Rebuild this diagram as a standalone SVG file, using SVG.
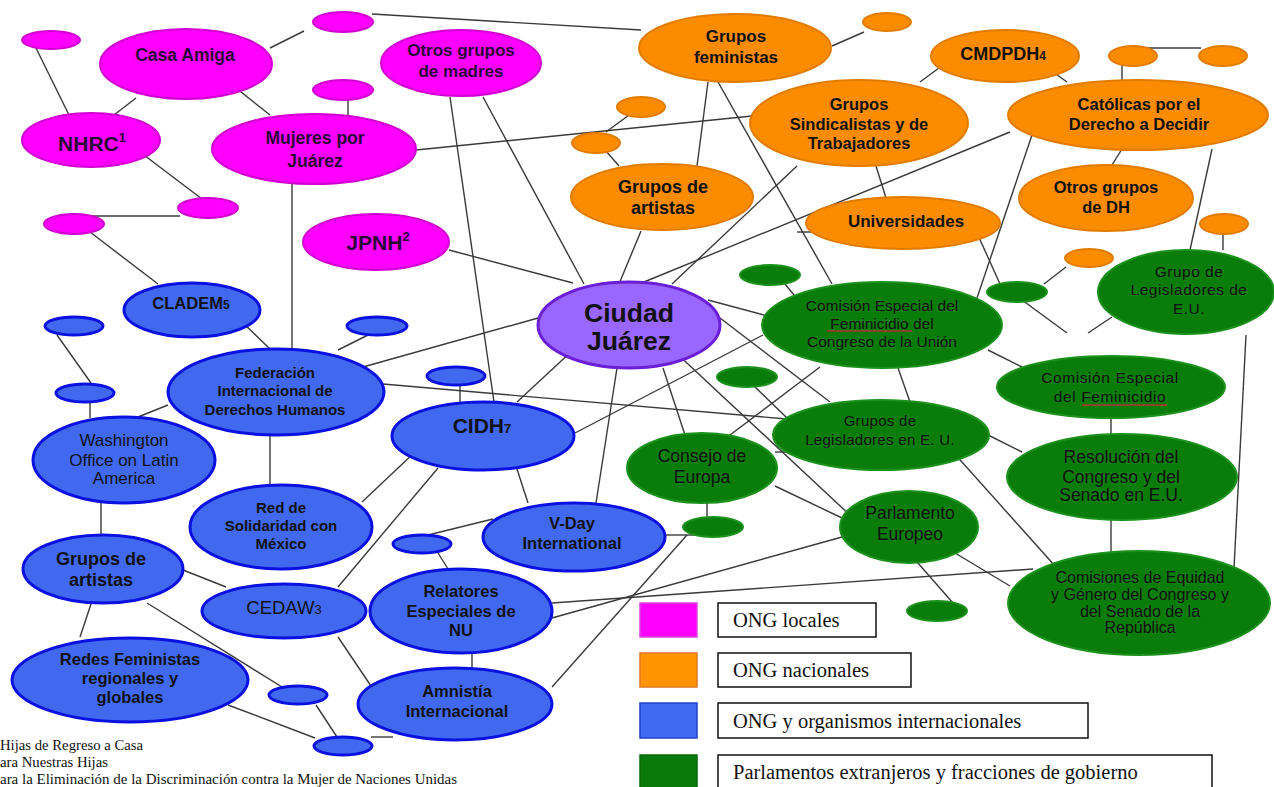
<svg xmlns="http://www.w3.org/2000/svg" width="1274" height="787" viewBox="0 0 1274 787">
<style>
.c line{stroke:#3a3a3a;stroke-width:1.4}
.pk{fill:#FF00FF;stroke:#D000D0;stroke-width:2}
.or{fill:#FB8C00;stroke:#E27C00;stroke-width:2}
.bl{fill:#4169F0;stroke:#0A10E0;stroke-width:3}
.gr{fill:#0A7C0A;stroke:#1C921C;stroke-width:2}
.cj{fill:#9966FF;stroke:#6A1FD6;stroke-width:3}
text{font-family:"Liberation Sans",Arial,sans-serif;text-anchor:middle;fill:#111}
.b{font-weight:bold}
.pt{fill:#2a0838;font-weight:bold}
.g{font-size:15.5px}
.sp{stroke:#b03030;stroke-width:1.3}
.leg text{font-family:"Liberation Serif","Times New Roman",serif;text-anchor:start;font-size:20.5px}
.fn{font-family:"Liberation Serif","Times New Roman",serif;text-anchor:start;font-size:14px}
</style>
<rect width="1274" height="787" fill="#fff"/>
<g id="connectors" class="c">
<line x1="36" y1="48" x2="69" y2="115"/>
<line x1="136" y1="98" x2="114" y2="115"/>
<line x1="270" y1="48" x2="304" y2="31"/>
<line x1="226" y1="80" x2="270" y2="115"/>
<line x1="348" y1="100" x2="348" y2="116"/>
<line x1="136" y1="149" x2="202" y2="199"/>
<line x1="180" y1="216" x2="90" y2="216"/>
<line x1="90" y1="232" x2="158" y2="284"/>
<line x1="292" y1="184" x2="292" y2="350"/>
<line x1="372" y1="14" x2="641" y2="30"/>
<line x1="416" y1="150" x2="752" y2="116"/>
<line x1="450" y1="97" x2="494" y2="402"/>
<line x1="483" y1="97" x2="584" y2="284"/>
<line x1="449" y1="250" x2="573" y2="283"/>
<line x1="832" y1="46" x2="864" y2="32"/>
<line x1="943" y1="65" x2="920" y2="82"/>
<line x1="1043" y1="65" x2="1067" y2="82"/>
<line x1="1144" y1="48" x2="1201" y2="48"/>
<line x1="1122" y1="65" x2="1122" y2="82"/>
<line x1="629" y1="115" x2="606" y2="132"/>
<line x1="606" y1="151" x2="619" y2="166"/>
<line x1="708" y1="82" x2="697" y2="166"/>
<line x1="718" y1="82" x2="832" y2="284"/>
<line x1="797" y1="166" x2="672" y2="284"/>
<line x1="1010" y1="132" x2="644" y2="282"/>
<line x1="797" y1="232" x2="820" y2="232"/>
<line x1="641" y1="231" x2="619" y2="284"/>
<line x1="876" y1="166" x2="886" y2="198"/>
<line x1="977" y1="233" x2="1000" y2="284"/>
<line x1="1033" y1="132" x2="977" y2="298"/>
<line x1="1044" y1="284" x2="1066" y2="267"/>
<line x1="1022" y1="300" x2="1067" y2="333"/>
<line x1="1088" y1="333" x2="1112" y2="317"/>
<line x1="1223" y1="234" x2="1223" y2="250"/>
<line x1="1212" y1="149" x2="1190" y2="250"/>
<line x1="1122" y1="149" x2="1112" y2="165"/>
<line x1="1246" y1="335" x2="1234" y2="568"/>
<line x1="785" y1="284" x2="798" y2="300"/>
<line x1="708" y1="300" x2="775" y2="318"/>
<line x1="720" y1="318" x2="830" y2="402"/>
<line x1="673" y1="350" x2="853" y2="518"/>
<line x1="663" y1="368" x2="685" y2="435"/>
<line x1="617" y1="368" x2="596" y2="503"/>
<line x1="573" y1="350" x2="517" y2="402"/>
<line x1="538" y1="318" x2="363" y2="367"/>
<line x1="763" y1="335" x2="575" y2="433"/>
<line x1="383" y1="384" x2="787" y2="419"/>
<line x1="775" y1="452" x2="787" y2="452"/>
<line x1="820" y1="367" x2="730" y2="435"/>
<line x1="898" y1="368" x2="910" y2="402"/>
<line x1="988" y1="350" x2="1022" y2="367"/>
<line x1="753" y1="385" x2="787" y2="418"/>
<line x1="1111" y1="418" x2="1111" y2="435"/>
<line x1="988" y1="435" x2="1022" y2="452"/>
<line x1="1111" y1="520" x2="1111" y2="552"/>
<line x1="953" y1="452" x2="1055" y2="566"/>
<line x1="955" y1="553" x2="1010" y2="586"/>
<line x1="552" y1="603" x2="1033" y2="569"/>
<line x1="552" y1="618" x2="842" y2="537"/>
<line x1="910" y1="554" x2="953" y2="603"/>
<line x1="775" y1="486" x2="842" y2="518"/>
<line x1="707" y1="503" x2="707" y2="518"/>
<line x1="665" y1="535" x2="696" y2="535"/>
<line x1="687" y1="535" x2="552" y2="687"/>
<line x1="237" y1="317" x2="270" y2="349"/>
<line x1="57" y1="335" x2="91" y2="383"/>
<line x1="90" y1="402" x2="90" y2="418"/>
<line x1="168" y1="405" x2="138" y2="417"/>
<line x1="370" y1="334" x2="338" y2="350"/>
<line x1="270" y1="435" x2="270" y2="485"/>
<line x1="101" y1="503" x2="101" y2="535"/>
<line x1="362" y1="502" x2="415" y2="452"/>
<line x1="338" y1="587" x2="438" y2="468"/>
<line x1="460" y1="385" x2="460" y2="402"/>
<line x1="517" y1="469" x2="528" y2="503"/>
<line x1="493" y1="519" x2="428" y2="535"/>
<line x1="438" y1="553" x2="448" y2="569"/>
<line x1="472" y1="653" x2="472" y2="670"/>
<line x1="338" y1="637" x2="371" y2="686"/>
<line x1="183" y1="570" x2="226" y2="587"/>
<line x1="91" y1="604" x2="80" y2="637"/>
<line x1="147" y1="603" x2="282" y2="687"/>
<line x1="316" y1="705" x2="337" y2="737"/>
<line x1="228" y1="705" x2="315" y2="738"/>
<line x1="371" y1="737" x2="393" y2="737"/>
</g>

<!-- local NGOs (pink) -->
<g id="p1"><ellipse class="pk" cx="51" cy="40" rx="29" ry="9"/></g>
<g id="casa-amiga"><ellipse class="pk" cx="186" cy="64" rx="86" ry="35"/><text class="pt" x="185" y="61" font-size="17.5">Casa Amiga</text></g>
<g id="p2"><ellipse class="pk" cx="343" cy="22" rx="30" ry="10"/></g>
<g id="p3"><ellipse class="pk" cx="343" cy="90" rx="30" ry="10"/></g>
<g id="nhrc"><ellipse class="pk" cx="91" cy="140" rx="69" ry="27"/><text class="pt" x="92" y="151" font-size="21">NHRC<tspan dy="-9" font-size="13">1</tspan></text></g>
<g id="mujeres"><ellipse class="pk" cx="314" cy="149" rx="102" ry="35"/><text class="pt" font-size="17.5"><tspan x="315" y="144">Mujeres por</tspan><tspan x="315" y="167">Juárez</tspan></text></g>
<g id="p4"><ellipse class="pk" cx="208" cy="208" rx="30" ry="10"/></g>
<g id="p5"><ellipse class="pk" cx="74" cy="224" rx="30" ry="10"/></g>
<g id="otros-madres"><ellipse class="pk" cx="461" cy="63" rx="80" ry="33"/><text class="pt" font-size="17"><tspan x="461" y="56">Otros grupos</tspan><tspan x="461" y="77">de madres</tspan></text></g>
<g id="jpnh"><ellipse class="pk" cx="376" cy="242" rx="73" ry="28"/><text class="pt" x="378" y="250" font-size="21">JPNH<tspan dy="-9" font-size="13">2</tspan></text></g>

<!-- national NGOs (orange) -->
<g id="feministas"><ellipse class="or" cx="735" cy="48" rx="96" ry="34"/><text class="b" font-size="17"><tspan x="736" y="42">Grupos</tspan><tspan x="736" y="63">feministas</tspan></text></g>
<g id="o1"><ellipse class="or" cx="887" cy="22" rx="24" ry="9"/></g>
<g id="cmdpdh"><ellipse class="or" cx="1005" cy="56" rx="74" ry="26"/><text class="b" x="1003" y="60" font-size="18">CMDPDH<tspan font-size="12">4</tspan></text></g>
<g id="o2"><ellipse class="or" cx="1133" cy="56" rx="24" ry="10"/></g>
<g id="o3"><ellipse class="or" cx="1223" cy="56" rx="24" ry="10"/></g>
<g id="sindicalistas"><ellipse class="or" cx="859" cy="123" rx="109" ry="43"/><text class="b" font-size="16.5"><tspan x="859" y="110">Grupos</tspan><tspan x="859" y="130">Sindicalistas y de</tspan><tspan x="859" y="149">Trabajadores</tspan></text></g>
<g id="catolicas"><ellipse class="or" cx="1138" cy="115" rx="130" ry="35"/><text class="b" font-size="16.5"><tspan x="1139" y="110">Católicas por el</tspan><tspan x="1139" y="130">Derecho a Decidir</tspan></text></g>
<g id="o4"><ellipse class="or" cx="641" cy="107" rx="24" ry="10"/></g>
<g id="o5"><ellipse class="or" cx="596" cy="143" rx="24" ry="10"/></g>
<g id="artistas-mx"><ellipse class="or" cx="662" cy="197" rx="91" ry="33"/><text class="b" font-size="18"><tspan x="663" y="193">Grupos de</tspan><tspan x="663" y="214">artistas</tspan></text></g>
<g id="universidades"><ellipse class="or" cx="903" cy="223" rx="97" ry="26"/><text class="b" x="906" y="227" font-size="17">Universidades</text></g>
<g id="otros-dh"><ellipse class="or" cx="1106" cy="198" rx="87" ry="33"/><text class="b" font-size="16.5"><tspan x="1106" y="193">Otros grupos</tspan><tspan x="1106" y="213">de DH</tspan></text></g>
<g id="o6"><ellipse class="or" cx="1089" cy="258" rx="24" ry="9"/></g>
<g id="o7"><ellipse class="or" cx="1224" cy="224" rx="24" ry="10"/></g>

<!-- centre -->
<g id="ciudad-juarez"><ellipse class="cj" cx="629" cy="325" rx="91" ry="43"/><text class="b" font-size="26.5"><tspan x="629" y="322">Ciudad</tspan><tspan x="629" y="350">Juárez</tspan></text></g>

<!-- foreign parliaments (green) -->
<g id="g1"><ellipse class="gr" cx="770" cy="275" rx="30" ry="10"/></g>
<g id="com-congreso"><ellipse class="gr" cx="882" cy="325" rx="120" ry="43"/><text class="g"><tspan x="882" y="311">Comisión Especial del</tspan><tspan x="882" y="329">Feminicidio del</tspan><tspan x="882" y="347">Congreso de la Unión</tspan></text><line class="sp" x1="827" y1="331" x2="912" y2="331"/></g>
<g id="g2"><ellipse class="gr" cx="1017" cy="292" rx="30" ry="10"/></g>
<g id="leg-eu"><ellipse class="gr" cx="1186" cy="292" rx="88" ry="42"/><text class="g" letter-spacing="0.5"><tspan x="1189" y="277">Grupo de</tspan><tspan x="1189" y="295">Legisladores de</tspan><tspan x="1189" y="314">E.U.</tspan></text></g>
<g id="com-especial"><ellipse class="gr" cx="1111" cy="387" rx="114" ry="31"/><text class="g" letter-spacing="0.6"><tspan x="1110" y="383">Comisión Especial</tspan><tspan x="1110" y="402">del Feminicidio</tspan></text><line class="sp" x1="1082" y1="405" x2="1167" y2="405"/></g>
<g id="g3"><ellipse class="gr" cx="747" cy="377" rx="30" ry="10"/></g>
<g id="leg-en-eu"><ellipse class="gr" cx="881" cy="435" rx="108" ry="35"/><text font-size="15" letter-spacing="0.3"><tspan x="880" y="426">Grupos de</tspan><tspan x="880" y="445">Legisladores en E. U.</tspan></text></g>
<g id="resolucion"><ellipse class="gr" cx="1122" cy="477" rx="115" ry="43"/><text font-size="17.5"><tspan x="1121" y="463">Resolución  del</tspan><tspan x="1121" y="483">Congreso y del</tspan><tspan x="1121" y="501">Senado en E.U.</tspan></text></g>
<g id="consejo"><ellipse class="gr" cx="702" cy="468" rx="75" ry="35"/><text font-size="17.5"><tspan x="702" y="462">Consejo de</tspan><tspan x="702" y="483">Europa</tspan></text></g>
<g id="g4"><ellipse class="gr" cx="713" cy="527" rx="30" ry="10"/></g>
<g id="parlamento"><ellipse class="gr" cx="909" cy="527" rx="69" ry="36"/><text font-size="17.5"><tspan x="910" y="519">Parlamento</tspan><tspan x="910" y="540">Europeo</tspan></text></g>
<g id="g5"><ellipse class="gr" cx="937" cy="611" rx="30" ry="10"/></g>
<g id="comisiones"><ellipse class="gr" cx="1139" cy="603" rx="131" ry="52"/><text font-size="16"><tspan x="1140" y="583">Comisiones de Equidad</tspan><tspan x="1140" y="600">y Género del Congreso y</tspan><tspan x="1140" y="617">del Senado de la</tspan><tspan x="1140" y="633">República</tspan></text></g>

<!-- international NGOs (blue) -->
<g id="cladem"><ellipse class="bl" cx="192" cy="310" rx="68" ry="27"/><text class="b" x="191" y="309" font-size="16.5">CLADEM<tspan font-size="12">5</tspan></text></g>
<g id="b1"><ellipse class="bl" cx="74" cy="326" rx="29" ry="9"/></g>
<g id="b2"><ellipse class="bl" cx="85" cy="393" rx="29" ry="9"/></g>
<g id="b3"><ellipse class="bl" cx="377" cy="326" rx="30" ry="9"/></g>
<g id="federacion"><ellipse class="bl" cx="276" cy="392" rx="108" ry="43"/><text class="b" font-size="15"><tspan x="275" y="378">Federación</tspan><tspan x="275" y="396">Internacional de</tspan><tspan x="275" y="415">Derechos Humanos</tspan></text></g>
<g id="washington"><ellipse class="bl" cx="124" cy="460" rx="91" ry="43"/><text font-size="17"><tspan x="124" y="446">Washington</tspan><tspan x="124" y="466">Office on Latin</tspan><tspan x="124" y="484">America</tspan></text></g>
<g id="b4"><ellipse class="bl" cx="456" cy="376" rx="29" ry="9"/></g>
<g id="cidh"><ellipse class="bl" cx="483" cy="436" rx="91" ry="34"/><text class="b" x="482" y="433" font-size="21">CIDH<tspan font-size="13">7</tspan></text></g>
<g id="red-solidaridad"><ellipse class="bl" cx="281" cy="527" rx="91" ry="42"/><text class="b" font-size="15"><tspan x="281" y="513">Red de</tspan><tspan x="281" y="531">Solidaridad con</tspan><tspan x="281" y="549">México</tspan></text></g>
<g id="artistas-int"><ellipse class="bl" cx="103" cy="569" rx="80" ry="34"/><text class="b" font-size="18"><tspan x="101" y="565">Grupos de</tspan><tspan x="101" y="586">artistas</tspan></text></g>
<g id="cedaw"><ellipse class="bl" cx="284" cy="611" rx="82" ry="27"/><text x="284" y="614" font-size="18.5">CEDAW<tspan font-size="13">3</tspan></text></g>
<g id="b5"><ellipse class="bl" cx="422" cy="544" rx="29" ry="9"/></g>
<g id="vday"><ellipse class="bl" cx="574" cy="537" rx="91" ry="34"/><text class="b" font-size="16.5"><tspan x="572" y="529">V-Day</tspan><tspan x="572" y="549">International</tspan></text></g>
<g id="relatores"><ellipse class="bl" cx="461" cy="611" rx="91" ry="42"/><text class="b" font-size="16.5"><tspan x="461" y="597">Relatores</tspan><tspan x="461" y="617">Especiales de</tspan><tspan x="461" y="636">NU</tspan></text></g>
<g id="redes"><ellipse class="bl" cx="130" cy="680" rx="118" ry="42"/><text class="b" font-size="16.5"><tspan x="130" y="665">Redes Feministas</tspan><tspan x="130" y="684">regionales y</tspan><tspan x="130" y="703">globales</tspan></text></g>
<g id="amnistia"><ellipse class="bl" cx="455" cy="704" rx="97" ry="36"/><text class="b" font-size="16.5"><tspan x="457" y="697">Amnistía</tspan><tspan x="457" y="717">Internacional</tspan></text></g>
<g id="b6"><ellipse class="bl" cx="298" cy="695" rx="29" ry="9"/></g>
<g id="b7"><ellipse class="bl" cx="343" cy="746" rx="29" ry="9"/></g>

<!-- legend -->
<g id="legend" class="leg">
<rect x="640" y="603" width="57" height="34" fill="#FF00FF" stroke="#E040E0" stroke-width="1.5"/>
<rect x="718" y="603" width="158" height="34" fill="#fff" stroke="#111" stroke-width="1.5"/>
<text x="733" y="627">ONG locales</text>
<rect x="640" y="653" width="57" height="34" fill="#FF9400" stroke="#E07A20" stroke-width="1.5"/>
<rect x="718" y="653" width="193" height="34" fill="#fff" stroke="#111" stroke-width="1.5"/>
<text x="733" y="677">ONG nacionales</text>
<rect x="640" y="703" width="57" height="35" fill="#3F6BF2" stroke="#2040C8" stroke-width="1.5"/>
<rect x="718" y="703" width="370" height="35" fill="#fff" stroke="#111" stroke-width="1.5"/>
<text x="733" y="728">ONG y organismos internacionales</text>
<rect x="640" y="755" width="57" height="40" fill="#0A7A0A" stroke="#0A6A0A" stroke-width="1.5"/>
<rect x="718" y="755" width="494" height="40" fill="#fff" stroke="#111" stroke-width="1.5"/>
<text x="733" y="779">Parlamentos extranjeros y fracciones de gobierno</text>
</g>

<!-- footnotes -->
<g id="footnotes">
<text class="fn" x="0" y="750" textLength="143" lengthAdjust="spacingAndGlyphs">Hijas de Regreso a Casa</text>
<text class="fn" x="0" y="767" textLength="108" lengthAdjust="spacingAndGlyphs">ara Nuestras Hijas</text>
<text class="fn" x="0" y="784" textLength="457" lengthAdjust="spacingAndGlyphs">ara la Eliminación de la Discriminación contra la Mujer de Naciones Unidas</text>
</g>
</svg>
